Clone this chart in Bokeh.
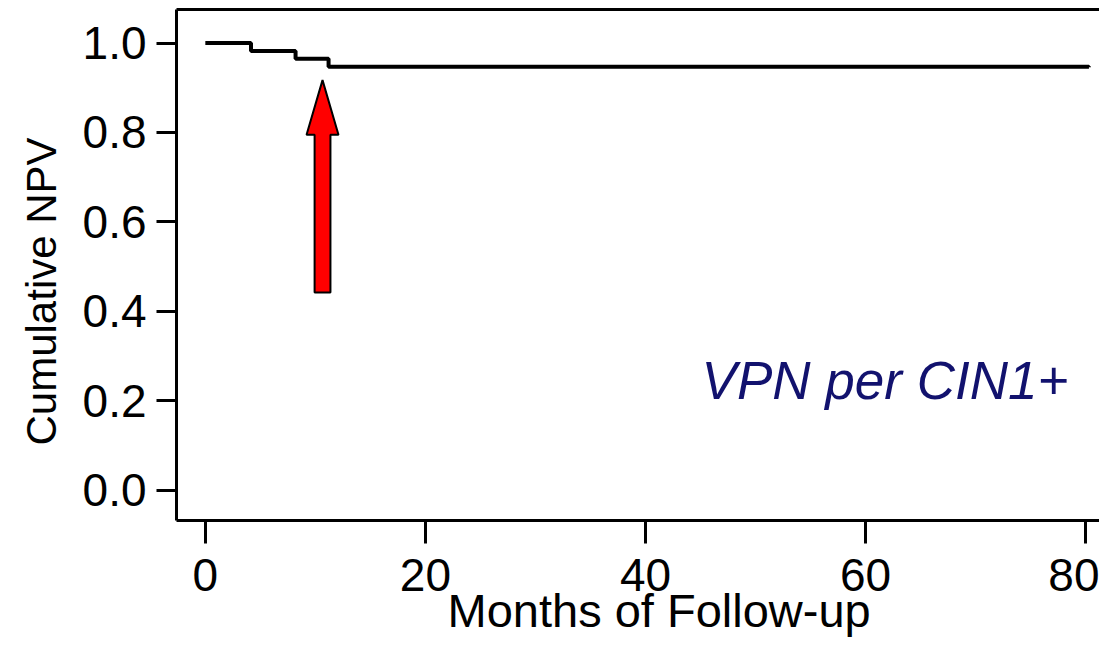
from bokeh.plotting import figure
from bokeh.models import Range1d, LinearAxis, FixedTicker, Label, Title
from bokeh.embed import file_html
from bokeh.resources import INLINE

# ---- data ----
months = [0, 4.15, 8.2, 11.2, 80.3]
npv = [1.0, 0.982, 0.965, 0.947, 0.946]

x_ticks = [0, 20, 40, 60, 80]
x_tick_labels = ["0", "20", "40", "60", "80"]
y_ticks = [0.0, 0.2, 0.4, 0.6, 0.8, 1.0]
y_tick_labels = ["0.0", "0.2", "0.4", "0.6", "0.8", "1.0"]

x_title = "Months of Follow-up"
y_title = "Cumulative NPV"

# arrow annotation (data units)
arrow_x = 10.65
arrow_tip = 0.917
arrow_head_base = 0.795
arrow_tail = 0.442
arrow_head_half = 1.45
arrow_shaft_half = 0.72

annotation_text = "VPN per CIN1+"
annotation_x = 45.1
annotation_y = 0.245

FONT = "Liberation Sans"

p = figure(width=1099, height=641, output_backend="svg", toolbar_location=None,
           x_range=Range1d(-2.62, 81.26), y_range=Range1d(-0.068, 1.075),
           min_border_left=176, min_border_right=0, min_border_top=9,
           min_border_bottom=121)
p.outline_line_color = None
p.grid.visible = False
p.background_fill_color = "white"
p.border_fill_color = "white"

# x axis
xa = p.xaxis[0]
xa.ticker = FixedTicker(ticks=x_ticks)
xa.major_label_overrides = {t: l for t, l in zip(x_ticks, x_tick_labels)}
xa.major_tick_out = 23
xa.major_tick_in = 0
xa.minor_tick_out = 0
xa.minor_tick_in = 0
xa.axis_line_width = 3
xa.axis_line_color = "black"
xa.major_tick_line_width = 3
xa.major_tick_line_color = "black"
xa.major_label_text_font = FONT
xa.major_label_text_font_size = "46px"
xa.major_label_text_color = "black"
xa.major_label_standoff = 15

# y axis
ya = p.yaxis[0]
ya.ticker = FixedTicker(ticks=y_ticks)
ya.major_label_overrides = {t: l for t, l in zip(y_ticks, y_tick_labels)}
ya.major_tick_out = 20
ya.major_tick_in = 0
ya.minor_tick_out = 0
ya.minor_tick_in = 0
ya.axis_line_width = 3
ya.axis_line_color = "black"
ya.major_tick_line_width = 3
ya.major_tick_line_color = "black"
ya.major_label_text_font = FONT
ya.major_label_text_font_size = "46px"
ya.major_label_text_color = "black"
ya.major_label_standoff = 10

# top border line
top = LinearAxis(ticker=FixedTicker(ticks=[]), axis_line_width=3, axis_line_color="black",
                 major_tick_out=0, major_tick_in=0, minor_tick_out=0, minor_tick_in=0,
                 major_label_standoff=0, axis_label_standoff=0,
                 major_label_text_font_size="0px")
p.add_layout(top, "above")

# axis titles as side titles (left-aligned so that an offset along the axis applies)
xt = Title(text=x_title, align="left", offset=271, standoff=-23,
           text_font=FONT, text_font_size="47px", text_font_style="normal",
           text_color="black")
p.add_layout(xt, "below")
yt = Title(text=y_title, align="left", offset=75, standoff=30,
           text_font=FONT, text_font_size="42px", text_font_style="normal",
           text_color="black")
p.add_layout(yt, "left")

# KM step line
p.step(months, npv, mode="after", line_color="black", line_width=4)

# red arrow
ax = [arrow_x, arrow_x + arrow_head_half, arrow_x + arrow_shaft_half, arrow_x + arrow_shaft_half,
      arrow_x - arrow_shaft_half, arrow_x - arrow_shaft_half, arrow_x - arrow_head_half]
ay = [arrow_tip, arrow_head_base, arrow_head_base, arrow_tail,
      arrow_tail, arrow_head_base, arrow_head_base]
p.patch(ax, ay, fill_color="#ff0000", line_color="black", line_width=2)

lab = Label(x=annotation_x, y=annotation_y, text=annotation_text,
            text_font=FONT, text_font_size="53px", text_font_style="italic",
            text_color="#12126e", text_baseline="alphabetic", text_align="left")
p.add_layout(lab)

open("out.html", "w").write(file_html(p, INLINE))
